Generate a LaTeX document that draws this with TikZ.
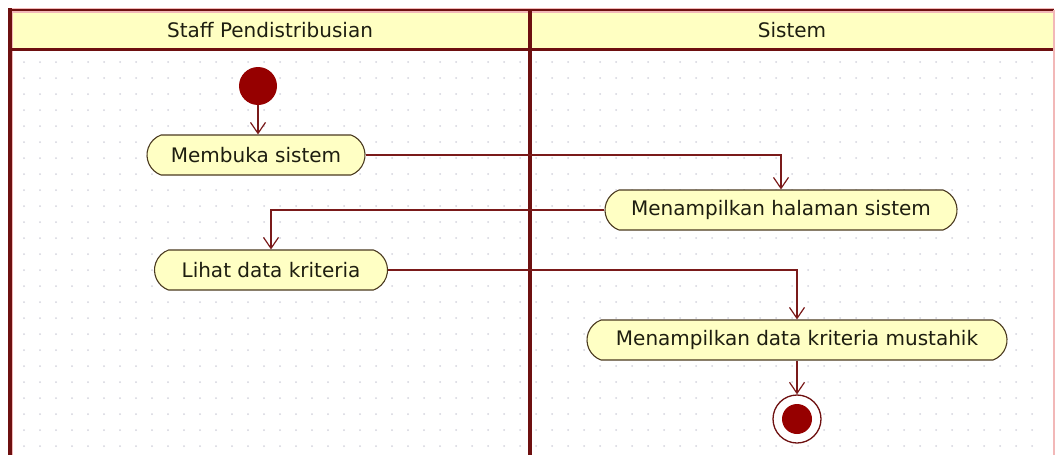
\documentclass[tikz,border=0pt]{standalone}
\usepackage{fontspec}
\setmainfont{DejaVu Sans}
\usetikzlibrary{arrows.meta,shapes.misc}
\definecolor{lane}{HTML}{6E1010}
\definecolor{lanehalo}{HTML}{F2B8B8}
\definecolor{headfill}{HTML}{FFFFC2}
\definecolor{actfill}{HTML}{FFFFC4}
\definecolor{actline}{HTML}{4A3A20}
\definecolor{flowline}{HTML}{7A1A1A}
\definecolor{dotgrey}{HTML}{D4D4DE}
\definecolor{bullet}{HTML}{960000}
\definecolor{ink}{HTML}{1E1E10}
\begin{document}
\begin{tikzpicture}[x=1pt,y=-1pt,
  activity/.style={rounded rectangle, rounded rectangle arc length=140,
    draw=actline, line width=1.1pt, fill=actfill, minimum height=40pt,
    text=ink, font=\fontsize{20}{24}\selectfont, inner sep=0pt},
  flow/.style={draw=flowline, line width=1.2pt,
    -{Straight Barb[length=11pt,width=15pt,line width=1.2pt]}},
  lanetitle/.style={font=\fontsize{20}{24}\selectfont, text=ink},
  initial/.style={circle, fill=bullet, minimum size=38pt, inner sep=0pt},
  final/.style={circle, draw=lane, line width=1.3pt, fill=white,
    minimum size=48pt, inner sep=0pt},
]
\useasboundingbox (0,0) rectangle (1059,455);
\fill[white] (0,0) rectangle (1059,455);

% dotted drawing grid
\foreach \gx in {24,40,...,1044}
  \foreach \gy in {62,78,...,454}
    \fill[dotgrey] (\gx,\gy) circle (1pt);

% swimlane frame and headers
\fill[headfill] (10,10) rectangle (1054,49);
\draw[lanehalo, line width=5pt] (10,455) -- (10,10) -- (1054,10);
\draw[lane, line width=1.5pt] (10,10) -- (1054,10);
\draw[lane, line width=4pt] (10,8) -- (10,455);
\draw[lane, line width=3pt] (10,49) -- (1054,49);
\draw[lane, line width=4pt] (530,10) -- (530,455);
\draw[lanehalo, line width=1.5pt] (1054,10) -- (1054,455);

\node[lanetitle] (hstaff) at (270,30) {Staff Pendistribusian};
\node[lanetitle] (hsys) at (792,30) {Sistem};

% activities
\node[initial] (start) at (258,86) {};
\node[activity, minimum width=218pt] (m1) at (256,155) {Membuka sistem};
\node[activity, minimum width=352pt] (m2) at (781,210) {Menampilkan halaman sistem};
\node[activity, minimum width=233pt] (m3) at (271,270) {Lihat data kriteria};
\node[activity, minimum width=420pt] (m4) at (797,340) {Menampilkan data kriteria mustahik};
\node[final] (stop) at (797,419) {};
\fill[bullet] (stop.center) circle (15pt);

% control flows
\draw[flow] (start.south) -- (start.south |- m1.north);
\draw[flow] (m1.east) -| (m2.north);
\draw[flow] (m2.west) -| (m3.north);
\draw[flow] (m3.east) -| (m4.north);
\draw[flow] (m4.south) -- (stop.north);
\end{tikzpicture}
\end{document}
